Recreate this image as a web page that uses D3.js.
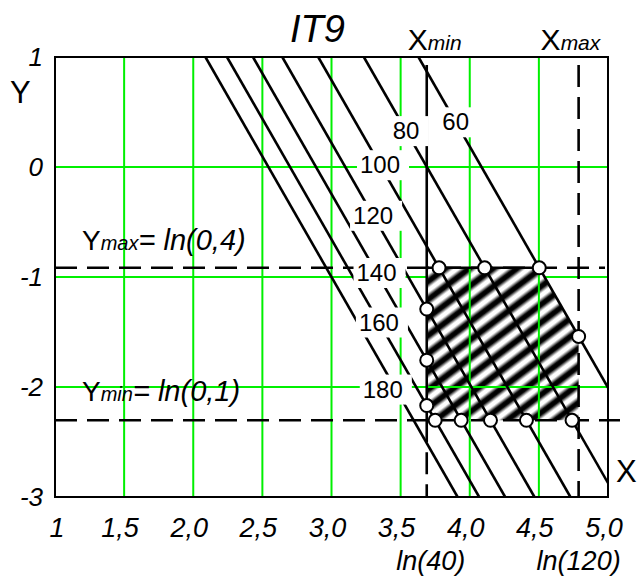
<!DOCTYPE html>
<html><head><meta charset="utf-8">
<script src="https://cdn.jsdelivr.net/npm/d3@7"></script>
<style>
html,body{margin:0;padding:0;background:#fff;}
text{font-family:"Liberation Sans", Arial, sans-serif;fill:#000;}
</style></head><body>
<svg id="chart" width="637" height="579"></svg>
<script>
// Nomogram IT9: X = ln(speed), Y = ln(feed); lines of constant tool life
const xTicks = [1, 1.5, 2, 2.5, 3, 3.5, 4, 4.5, 5];
const xTickLabels = ["1", "1,5", "2,0", "2,5", "3,0", "3,5", "4,0", "4,5", "5,0"];
const yTicks = [1, 0, -1, -2, -3];
const yTickLabels = ["1", "0", "-1", "-2", "-3"];
const lineValues = [60, 80, 100, 120, 140, 160, 180];
const lineIntercepts = [4.085, 3.69, 3.36, 3.10, 2.888, 2.70, 2.544];
const labelLevels = [0.41, 0.33, 0.02, -0.44, -0.96, -1.41, -2.02];
const slope = 0.456;            // X = c - slope * Y
const xMin = Math.log(40), xMax = Math.log(120);
const yMax = Math.log(0.4), yMin = Math.log(0.1);
// constraint intersections marked with circles: [line value, constraint]
const circlePoints = [
  [100, "yMax"], [80, "yMax"], [60, "yMax"],
  [120, "xMin"], [140, "xMin"], [160, "xMin"],
  [160, "yMin"], [140, "yMin"], [120, "yMin"], [100, "yMin"], [80, "yMin"],
  [60, "xMax"]
];

const svg = d3.select("#chart");
const x = d3.scaleLinear().domain([1, 5]).range([55, 608]);
const y = d3.scaleLinear().domain([-3, 1]).range([497, 57]);
const GREEN = "#00f000";

const cOf = v => lineIntercepts[lineValues.indexOf(v)];
const xAtY = (c, Y) => c - slope * Y;
const yAtX = (c, X) => (c - X) / slope;

const defs = svg.append("defs");
defs.append("clipPath").attr("id", "frameClip").append("rect")
  .attr("x", x(1)).attr("y", y(1)).attr("width", x(5) - x(1)).attr("height", y(-3) - y(1));

// soft diagonal stripes for the feasible region
const grad = defs.append("linearGradient").attr("id", "stripe")
  .attr("x1", 0).attr("y1", 0).attr("x2", 0).attr("y2", 1);
[[0, "#fff"], [0.12, "#fff"], [0.38, "#000"], [0.62, "#000"], [0.88, "#fff"], [1, "#fff"]]
  .forEach(([o, c]) => grad.append("stop").attr("offset", o).attr("stop-color", c));
const pat = defs.append("pattern").attr("id", "hatch")
  .attr("patternUnits", "userSpaceOnUse").attr("width", 30).attr("height", 14.4)
  .attr("patternTransform", "rotate(-37)");
pat.append("rect").attr("width", 30).attr("height", 14.4).attr("fill", "url(#stripe)");

// grid
const grid = svg.append("g");
grid.selectAll(".gv").data(xTicks.filter(t => t > 1 && t < 5)).join("line")
  .attr("x1", d => x(d)).attr("x2", d => x(d)).attr("y1", y(1)).attr("y2", y(-3))
  .attr("stroke", GREEN).attr("stroke-width", 2);
grid.selectAll(".gh").data(yTicks.filter(t => t < 1 && t > -3)).join("line")
  .attr("x1", x(1)).attr("x2", x(5)).attr("y1", d => y(d)).attr("y2", d => y(d))
  .attr("stroke", GREEN).attr("stroke-width", 2);

// feasible region
const c60 = cOf(60), c160 = cOf(160);
const region = [
  [xMin, yMax], [xAtY(c60, yMax), yMax], [xMax, yAtX(c60, xMax)],
  [xMax, yMin], [xAtY(c160, yMin), yMin], [xMin, yAtX(c160, xMin)]
];
svg.append("path")
  .attr("d", d3.line().x(d => x(d[0])).y(d => y(d[1]))(region) + "Z")
  .attr("fill", "url(#hatch)");

// vertical grid drawn again over the hatching
svg.append("g").selectAll("line").data(xTicks.filter(t => t > xMin && t < xMax)).join("line")
  .attr("x1", d => x(d)).attr("x2", d => x(d)).attr("y1", y(yMax)).attr("y2", y(yMin))
  .attr("stroke", GREEN).attr("stroke-width", 2);
svg.append("line").attr("x1", x(xMin)).attr("x2", x(xMax)).attr("y1", y(-2)).attr("y2", y(-2))
  .attr("stroke", GREEN).attr("stroke-width", 2);

// constraint lines
const dash = "22,10";
const cons = svg.append("g").attr("stroke", "#000").attr("stroke-width", 2.6).attr("fill", "none");
cons.append("line").attr("x1", x(1)).attr("x2", x(5) - 3).attr("y1", y(yMax)).attr("y2", y(yMax))
  .attr("stroke-dasharray", dash);
cons.append("line").attr("x1", x(1)).attr("x2", x(5) + 12).attr("y1", y(yMin)).attr("y2", y(yMin))
  .attr("stroke-dasharray", dash);
cons.append("line").attr("x1", x(xMin)).attr("x2", x(xMin)).attr("y1", y(1) + 8).attr("y2", y(yMin));
cons.append("line").attr("x1", x(xMin)).attr("x2", x(xMin)).attr("y1", y(yMin)).attr("y2", y(-3))
  .attr("stroke-dasharray", dash);
cons.append("line").attr("x1", x(xMax)).attr("x2", x(xMax)).attr("y1", y(1) + 8).attr("y2", y(-3))
  .attr("stroke-dasharray", dash);
cons.append("line").attr("x1", x(xMin)).attr("x2", x(xAtY(c60, yMax))).attr("y1", y(yMax)).attr("y2", y(yMax));

// tool-life lines
svg.append("g").attr("clip-path", "url(#frameClip)")
  .selectAll("line").data(lineIntercepts).join("line")
  .attr("x1", c => x(xAtY(c, 1))).attr("y1", y(1))
  .attr("x2", c => x(xAtY(c, -3))).attr("y2", y(-3))
  .attr("stroke", "#000").attr("stroke-width", 2.6);

// line labels on white boxes
const labs = svg.append("g");
lineValues.forEach((v, i) => {
  const L = labelLevels[i];
  const shift = v === 180 ? -13 : 0;
  const g = labs.append("g");
  const t = g.append("text")
    .attr("x", x(xAtY(lineIntercepts[i], L)) + shift).attr("y", y(L)).attr("dy", "0.35em")
    .attr("text-anchor", "middle").attr("font-size", 24).text(v);
  const b = t.node().getBBox();
  g.insert("rect", "text").attr("x", b.x - 3).attr("y", b.y - 1)
    .attr("width", b.width + 12).attr("height", b.height + 3).attr("fill", "#fff");
});

// intersection circles
const pt = ([v, k]) => {
  const c = cOf(v);
  if (k === "yMax") return [xAtY(c, yMax), yMax];
  if (k === "yMin") return [xAtY(c, yMin), yMin];
  if (k === "xMin") return [xMin, yAtX(c, xMin)];
  return [xMax, yAtX(c, xMax)];
};
svg.append("g").selectAll("circle").data(circlePoints.map(pt)).join("circle")
  .attr("cx", d => x(d[0])).attr("cy", d => y(d[1])).attr("r", 6.5)
  .attr("fill", "#fff").attr("stroke", "#000").attr("stroke-width", 2);

// frame
svg.append("rect").attr("x", x(1)).attr("y", y(1)).attr("width", x(5) - x(1)).attr("height", y(-3) - y(1))
  .attr("fill", "none").attr("stroke", "#000").attr("stroke-width", 2);

// axis tick labels
svg.append("g").selectAll("text").data(xTicks).join("text")
  .attr("x", (d, i) => x(d) + (i === 0 ? 2 : -4)).attr("y", 537)
  .attr("text-anchor", "middle").attr("font-size", 27).attr("font-style", "italic")
  .text((d, i) => xTickLabels[i]);
svg.append("g").selectAll("text").data(yTicks).join("text")
  .attr("x", 43).attr("y", d => y(d)).attr("dy", "0.35em")
  .attr("text-anchor", "end").attr("font-size", 26).attr("font-style", "italic")
  .text((d, i) => yTickLabels[i]);

// titles and annotations
svg.append("text").attr("x", 290).attr("y", 42).attr("font-size", 38).attr("font-style", "italic").text("IT9");
svg.append("text").attr("x", 10).attr("y", 103).attr("font-size", 31).text("Y");
svg.append("text").attr("x", 616).attr("y", 482).attr("font-size", 31).text("X");

function subLabel(px, py, main, sub, rest, sizes) {
  const t = svg.append("text").attr("x", px).attr("y", py);
  t.append("tspan").attr("font-size", sizes[0]).text(main);
  t.append("tspan").attr("font-size", sizes[1]).attr("font-style", "italic").text(sub);
  if (rest) t.append("tspan").attr("font-size", sizes[2]).attr("font-style", "italic").text(rest);
  return t;
}
subLabel(x(xMin) - 19, 50, "X", "min", null, [30, 21]);
subLabel(x(xMax) - 38, 50, "X", "max", null, [30, 21]);
subLabel(82, 250, "Y", "max", "= ln(0,4)", [28, 20, 29]);
subLabel(82, 401, "Y", "min", "= ln(0,1)", [28, 20, 29]);

svg.append("text").attr("x", x(xMin) + 4).attr("y", 570).attr("text-anchor", "middle")
  .attr("font-size", 27).attr("font-style", "italic").text("ln(40)");
svg.append("text").attr("x", x(xMax)).attr("y", 570).attr("text-anchor", "middle")
  .attr("font-size", 27).attr("font-style", "italic").text("ln(120)");
</script>
</body></html>
